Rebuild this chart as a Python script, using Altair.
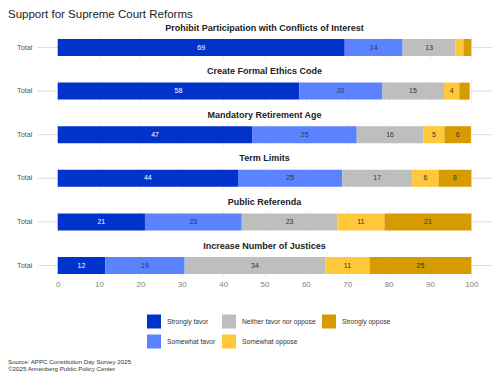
import altair as alt
import pandas as pd

title_text = "Support for Supreme Court Reforms"
items = [
    "Prohibit Participation with Conflicts of Interest",
    "Create Formal Ethics Code",
    "Mandatory Retirement Age",
    "Term Limits",
    "Public Referenda",
    "Increase Number of Justices",
]
responses = ["Strongly favor", "Somewhat favor", "Neither favor nor oppose",
             "Somewhat oppose", "Strongly oppose"]
# segment lengths (labels are these rounded)
strongly_favor = [69.4, 58.4, 47.1, 43.6, 21.1, 11.5]
somewhat_favor = [14.0, 20.0, 25.2, 25.2, 23.4, 19.2]
neither = [12.8, 15.0, 16.1, 16.9, 23.1, 34.0]
somewhat_oppose = [1.9, 3.7, 5.1, 6.4, 11.4, 10.7]
strongly_oppose = [1.9, 2.5, 6.4, 7.9, 21.0, 24.6]
response_colors = ["#0033CC", "#5B82FF", "#BEBEBE", "#FFC73A", "#D59B00"]
legend_order = ["Strongly favor", "Neither favor nor oppose", "Strongly oppose",
                "Somewhat favor", "Somewhat oppose"]
x_ticks = list(range(0, 101, 5))
row_label = "Total"
footer_lines = ["Source: APPC Constitution Day Survey 2025",
                "\u00a92025 Annenberg Public Policy Center"]

FONT = "Liberation Sans"

series = [strongly_favor, somewhat_favor, neither, somewhat_oppose, strongly_oppose]
rows = []
for i, item in enumerate(items):
    for r, resp in enumerate(responses):
        rows.append({"item": item, "response": resp, "rank": r,
                     "value": series[r][i], "row": row_label})
df = pd.DataFrame(rows)

legend_colors = [response_colors[responses.index(r)] for r in legend_order]
color_scale = alt.Scale(domain=legend_order, range=legend_colors)


def panel(item, last):
    base = (
        alt.Chart(df)
        .transform_filter(alt.datum.item == item)
        .transform_stack(stack="value", groupby=["item"], as_=["x0", "x1"],
                         sort=[alt.SortField("rank", order="ascending")])
        .transform_calculate(mid="(datum.x0 + datum.x1) / 2")
    )
    xaxis = alt.Axis(values=x_ticks,
                     labelExpr="datum.value % 10 == 0 ? datum.label : ''",
                     grid=True, gridColor="#ebebeb", gridWidth=0.8,
                     ticks=False, domain=False, labels=last, labelPadding=3,
                     labelFontSize=8, labelColor="#7f7f7f", labelFont=FONT,
                     title=None)
    xscale = alt.Scale(domain=[-5, 105], nice=False, zero=False)
    yenc = alt.Y("row:N", title=None,
                 axis=alt.Axis(ticks=False, domain=False, grid=True,
                               gridColor="#dddddd", bandPosition=0.5,
                               labelPadding=5, labelFontSize=7.3,
                               labelColor="#555555", labelFont=FONT,
                               minExtent=29, maxExtent=29))
    bars = base.mark_bar(size=17).encode(
        x=alt.X("x0:Q", scale=xscale, axis=xaxis),
        x2="x1:Q",
        y=yenc,
        color=alt.Color("response:N", scale=color_scale,
                        legend=alt.Legend(title=None, orient="none",
                                          legendX=110, legendY=278.5,
                                          direction="horizontal", columns=3,
                                          symbolType="square", symbolSize=196,
                                          symbolStrokeWidth=0,
                                          labelFontSize=6.7, labelColor="#333333",
                                          labelFont=FONT, columnPadding=6,
                                          rowPadding=6, labelOffset=6)),
    )
    texts = base.transform_filter(alt.datum.value >= 3.5).mark_text(
        fontSize=7, font=FONT, baseline="middle", align="center"
    ).encode(
        x=alt.X("mid:Q", scale=xscale),
        y=alt.Y("row:N"),
        text=alt.Text("value:Q", format=".0f"),
        color=alt.condition(alt.datum.response == "Strongly favor",
                            alt.value("white"), alt.value("#333333")),
    )
    return alt.layer(bars, texts).properties(
        width=455, height=23,
        title=alt.TitleParams(item, fontSize=9, fontWeight="bold",
                              anchor="middle", frame="group", offset=3.5,
                              color="#222222", font=FONT),
    )


panels = alt.vconcat(*[panel(it, k == len(items) - 1) for k, it in enumerate(items)],
                     spacing=7.6)

footer_df = pd.DataFrame({"line": footer_lines, "i": list(range(len(footer_lines)))})
footer = alt.Chart(footer_df).mark_text(
    align="left", baseline="middle", fontSize=6.2, font=FONT, color="#333333"
).encode(
    x=alt.value(-29),
    y=alt.Y("i:O", axis=None),
    text="line:N",
).properties(width=200, height=14)

chart = alt.vconcat(panels, footer, spacing=70.5).properties(
    title=alt.TitleParams(title_text, fontSize=11.5, fontWeight="normal",
                          anchor="start", offset=3.5, color="#222222", font=FONT),
    padding={"left": 0, "top": 0, "right": 0, "bottom": 0},
).configure_view(strokeWidth=0)

chart.save("out.html", embed_options={"renderer": "svg", "actions": False})
